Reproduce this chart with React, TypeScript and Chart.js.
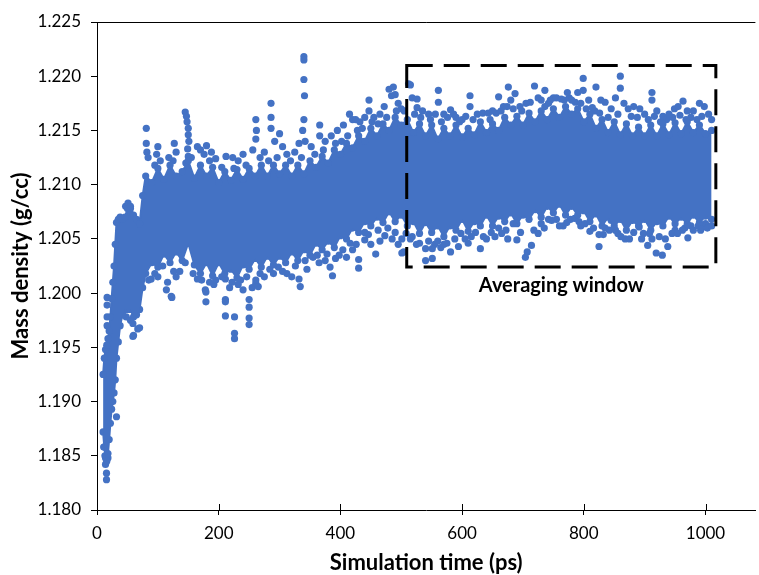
import React, { useEffect, useRef } from "react";
import { Chart, registerables } from "chart.js";

Chart.register(...registerables);

const BLUE = "#4472C4";
const FONT = "Lato, 'Open Sans', sans-serif";

const xTickValues = [0, 200, 400, 600, 800, 1000];
const yTickValues = [1.18, 1.185, 1.19, 1.195, 1.2, 1.205, 1.21, 1.215, 1.22, 1.225];

const xAxisTitle = "Simulation time (ps)";
const yAxisTitle = "Mass density (g/cc)";

// dense core of the scatter cloud: time (ps) with lower / upper edge of the solid band
const coreTimes = [
  10, 12, 14, 16, 18, 20, 22, 24, 26, 28, 30, 32, 35, 38, 42, 46, 50, 55, 60, 65, 70, 75,
  80, 90, 100, 110, 120, 130, 140, 150, 160, 170, 180, 190, 200, 210, 220, 230, 240, 250,
  260, 270, 280, 290, 300, 310, 320, 330, 340, 350, 360, 370, 380, 390, 400, 410, 420, 430,
  440, 450, 460, 470, 480, 490, 500, 510, 520, 530, 540, 550, 560, 570, 580, 590, 600, 610,
  620, 630, 640, 650, 660, 670, 680, 690, 700, 710, 720, 730, 740, 750, 760, 770, 780, 790,
  800, 810, 820, 830, 840, 850, 860, 870, 880, 890, 900, 910, 920, 930, 940, 950, 960, 970,
  980, 990, 1000, 1010,
];
const coreHigh = [
  1.1925, 1.194, 1.1948, 1.1952, 1.1958, 1.1965, 1.1978, 1.1995, 1.201, 1.2025, 1.2045, 1.2065,
  1.2068, 1.207, 1.2068, 1.207, 1.2078, 1.208, 1.2072, 1.2068, 1.2064, 1.209,
  1.2108, 1.2102, 1.2115, 1.2105, 1.2118, 1.2108, 1.2112, 1.2122, 1.2106, 1.2118, 1.2108, 1.2116,
  1.2102, 1.2112, 1.2104, 1.2114, 1.2105, 1.2115, 1.2108, 1.2118, 1.2108, 1.2118, 1.211, 1.2118,
  1.2108, 1.2118, 1.211, 1.2122, 1.2116, 1.2126, 1.212, 1.2132, 1.2128, 1.2138, 1.2134, 1.2145,
  1.214, 1.2152, 1.2145, 1.2156, 1.215, 1.2162, 1.2155,
  1.216, 1.2148, 1.2156, 1.2145, 1.2155, 1.2142, 1.2152, 1.2145, 1.2155, 1.2144, 1.2152,
  1.2146, 1.2158, 1.2148, 1.2156, 1.215, 1.2162, 1.2155, 1.2163, 1.2155, 1.2166, 1.2158, 1.2168,
  1.216, 1.217, 1.2162, 1.2172, 1.2165, 1.217, 1.2158, 1.2165, 1.2152, 1.216, 1.2148, 1.2158,
  1.2146, 1.2156, 1.2145, 1.2153, 1.2145, 1.2155, 1.2145, 1.2156, 1.2146, 1.2157, 1.2147, 1.2158,
  1.2148, 1.2155, 1.2147, 1.215,
];
const coreLow = [
  1.1872, 1.1858, 1.1848, 1.1845, 1.1852, 1.1865, 1.188, 1.1893, 1.19, 1.1908, 1.192, 1.194,
  1.1955, 1.197, 1.198, 1.1985, 1.1985, 1.1985, 1.1978, 1.198, 1.1985, 1.2005,
  1.2018, 1.2028, 1.2024, 1.2036, 1.2028, 1.2038, 1.203, 1.2046, 1.2026, 1.2018, 1.2028, 1.2016,
  1.2028, 1.2018, 1.2022, 1.2014, 1.2026, 1.2022, 1.2032, 1.2024, 1.2034, 1.2026, 1.2034, 1.2028,
  1.2038, 1.203, 1.204, 1.2035, 1.2046, 1.204, 1.2048, 1.2042, 1.2053, 1.205, 1.206, 1.2056,
  1.2066, 1.2062, 1.207, 1.2065, 1.2075, 1.2066, 1.2072,
  1.2062, 1.2066, 1.2055, 1.2065, 1.2056, 1.2062, 1.2052, 1.2062, 1.2058, 1.2068, 1.2057,
  1.2066, 1.2062, 1.2072, 1.2062, 1.2071, 1.2066, 1.2074, 1.2064, 1.2072, 1.2068, 1.2077, 1.207,
  1.208, 1.2074, 1.2082, 1.2072, 1.208, 1.2072, 1.2076, 1.2066, 1.2073, 1.2062, 1.207, 1.2062,
  1.2068, 1.2058, 1.2067, 1.2062, 1.2068, 1.2058, 1.2066, 1.2062, 1.2071, 1.2064, 1.207, 1.2064,
  1.2072, 1.2065, 1.2071, 1.2068,
];

// scattered points above the dense band: [time (ps), density (g/cc)]
const upperPoints: [number, number][] = [
  [16.6, 1.1996], [16.6, 1.1989], [16.6, 1.1978], [16.6, 1.197],
  [47, 1.208], [51, 1.2083], [55, 1.2078],
  [81, 1.2152], [81, 1.2138], [82, 1.213], [84, 1.2125],
  [100, 1.2135], [98, 1.2128], [104, 1.2122], [118, 1.2125], [127, 1.2138], [130, 1.213],
  [145, 1.2167], [147, 1.2163], [148, 1.2158], [150, 1.2152], [150, 1.2146], [151, 1.214],
  [149, 1.2133], [150, 1.2126], [146, 1.212],
  [165, 1.2135], [170, 1.2132], [176, 1.2128], [180, 1.2136], [188, 1.213], [195, 1.2124],
  [212, 1.2126], [223, 1.2125], [232, 1.2122], [240, 1.2128],
  [261, 1.216], [262, 1.215], [261, 1.2142], [256, 1.2132], [275, 1.213],
  [286, 1.2175], [286, 1.2162], [286, 1.2152], [292, 1.214], [300, 1.2147], [305, 1.2135],
  [312, 1.2128], [325, 1.213], [332, 1.2138],
  [340, 1.2218], [340, 1.2215], [340, 1.2197], [341, 1.2182], [340, 1.216], [338, 1.215],
  [342, 1.214], [352, 1.2135], [366, 1.2155], [366, 1.2145], [375, 1.214], [385, 1.2145],
  [395, 1.215], [405, 1.2155], [415, 1.2165], [420, 1.216], [425, 1.216], [432, 1.2158],
  [440, 1.2162], [447, 1.2178], [447, 1.2168], [455, 1.2162], [465, 1.2165], [472, 1.2172],
  [480, 1.2188], [484, 1.2182], [487, 1.219], [490, 1.2183], [495, 1.2175], [500, 1.217],
  [512, 1.2193], [515, 1.2192], [518, 1.218], [526, 1.2179], [526, 1.2171], [535, 1.2168],
  [545, 1.2165], [561, 1.2187], [561, 1.2176], [570, 1.2165], [581, 1.2169], [590, 1.2162],
  [600, 1.216], [613, 1.2182], [613, 1.2172], [625, 1.2165], [643, 1.2166], [650, 1.2168],
  [660, 1.2181], [668, 1.2172], [676, 1.219], [680, 1.2178], [687, 1.2184], [695, 1.2172],
  [705, 1.2175], [719, 1.2191], [725, 1.218], [736, 1.2187], [736, 1.2172], [745, 1.2178],
  [755, 1.218], [763, 1.2179], [773, 1.2185], [780, 1.2178], [790, 1.2185], [799, 1.2198],
  [799, 1.2187], [808, 1.2178], [814, 1.2171], [820, 1.219], [828, 1.2178], [835, 1.2176],
  [845, 1.217], [852, 1.218], [860, 1.22], [860, 1.2189], [866, 1.2175], [873, 1.217],
  [882, 1.2172], [892, 1.217], [900, 1.2165], [912, 1.2185], [912, 1.2178], [920, 1.2168],
  [930, 1.2163], [940, 1.2165], [949, 1.217], [955, 1.2172], [963, 1.2177], [970, 1.2168],
  [980, 1.2168], [990, 1.2175], [998, 1.2172], [1005, 1.2165], [1010, 1.216],
];

// points in the fuzzy zone just above the dense band
const upperEdgePoints: [number, number][] = [
  [95, 1.2118], [125, 1.2122], [155, 1.2125], [185, 1.2122], [205, 1.2116], [225, 1.2115],
  [245, 1.2118], [268, 1.2125], [282, 1.2122], [296, 1.2125], [318, 1.2122], [336, 1.2125],
  [358, 1.2128], [372, 1.2132], [392, 1.2138], [402, 1.214], [412, 1.2145], [428, 1.215],
  [436, 1.2152], [452, 1.2158], [462, 1.2156], [476, 1.2162], [492, 1.2168],
  [505, 1.2168], [522, 1.2165], [532, 1.2162], [548, 1.216], [556, 1.2165], [566, 1.2158],
  [576, 1.2162], [586, 1.2165], [596, 1.2158], [606, 1.2163], [618, 1.216], [634, 1.2166],
  [646, 1.216], [656, 1.2166], [664, 1.2168], [674, 1.2172], [684, 1.217], [698, 1.2168],
  [712, 1.2176], [730, 1.2178], [742, 1.2175], [750, 1.218], [768, 1.2178], [776, 1.218],
  [786, 1.2176], [795, 1.2175], [804, 1.217], [818, 1.2168], [826, 1.2166], [840, 1.2162],
  [856, 1.2165], [878, 1.2163], [888, 1.2162], [906, 1.216], [916, 1.2163], [926, 1.2158],
  [936, 1.216], [946, 1.2162], [958, 1.2164], [968, 1.216], [976, 1.2162], [986, 1.216],
  [994, 1.2163],
];

// scattered points below the dense band: [time (ps), density (g/cc)]
const lowerPoints: [number, number][] = [
  [11, 1.1858], [13, 1.185], [14, 1.1842], [15.6, 1.1834], [15.6, 1.1828], [18, 1.1848],
  [32, 1.1886],
  [48, 1.1978], [55, 1.1975], [59, 1.1972], [59, 1.196], [60, 1.1961], [67, 1.1967],
  [70, 1.1968], [62, 1.1985],
  [89, 1.2013], [100, 1.2015], [114, 1.2003], [116, 1.201], [122, 1.1997], [123, 1.1996],
  [130, 1.2015], [136, 1.202], [165, 1.2013], [178, 1.2003], [179, 1.2001], [179, 1.1992],
  [185, 1.201], [195, 1.2012], [211, 1.2013], [211, 1.1994], [211, 1.1992], [211, 1.1979],
  [218, 1.2005], [226, 1.1978], [226, 1.1963], [226, 1.1958], [232, 1.2008], [240, 1.2003],
  [250, 1.1994], [250, 1.1987], [250, 1.1977], [250, 1.1971], [255, 1.2005], [261, 1.2009],
  [261, 1.2012], [265, 1.2006], [275, 1.2015], [290, 1.2018], [305, 1.202], [320, 1.2015],
  [332, 1.2013], [334, 1.2006], [345, 1.2022], [355, 1.2033], [365, 1.2028], [375, 1.203],
  [383, 1.2024], [387, 1.2016], [398, 1.2035], [410, 1.2033], [420, 1.204], [430, 1.2031],
  [430, 1.2023], [440, 1.2049], [440, 1.2056], [450, 1.2045], [458, 1.2036], [465, 1.2048],
  [473, 1.2053], [485, 1.205], [495, 1.2045], [501, 1.2037], [501, 1.205], [504, 1.2038],
  [515, 1.205], [525, 1.2045], [540, 1.203], [540, 1.2041], [551, 1.2032], [551, 1.2041],
  [560, 1.2048], [570, 1.2045], [581, 1.2038], [594, 1.2043], [605, 1.205], [615, 1.2052],
  [630, 1.2041], [640, 1.205], [654, 1.2052], [665, 1.2055], [675, 1.205], [690, 1.2049],
  [704, 1.2033], [707, 1.2038], [714, 1.2044], [725, 1.2055], [735, 1.206], [747, 1.2067],
  [760, 1.2062], [772, 1.2065], [785, 1.2069], [795, 1.2062], [810, 1.2057], [825, 1.2043],
  [825, 1.2054], [835, 1.206], [845, 1.2067], [852, 1.2058], [861, 1.2052], [875, 1.205],
  [891, 1.2061], [898, 1.2055], [905, 1.2044], [912, 1.205], [919, 1.2037], [929, 1.2035],
  [938, 1.2043], [945, 1.2055], [954, 1.2055], [962, 1.2058], [971, 1.2051], [980, 1.2058],
  [988, 1.2062], [995, 1.2061], [1003, 1.206], [1010, 1.2062],
];

// points in the fuzzy zone just below the dense band
const lowerEdgePoints: [number, number][] = [
  [85, 1.2012], [95, 1.2018], [108, 1.2025], [126, 1.202], [145, 1.2028], [158, 1.2018],
  [172, 1.2012], [192, 1.2008], [205, 1.2015], [222, 1.201], [236, 1.2012], [246, 1.2015],
  [268, 1.2018], [284, 1.2022], [298, 1.2024], [312, 1.2018], [326, 1.2025], [342, 1.203],
  [362, 1.2035], [378, 1.2036], [392, 1.2032], [404, 1.204], [416, 1.2046], [426, 1.2045],
  [446, 1.2054], [462, 1.2058], [478, 1.206], [490, 1.2056],
  [508, 1.2055], [518, 1.2052], [530, 1.2046], [545, 1.2048], [555, 1.2045], [565, 1.2042],
  [575, 1.2046], [588, 1.205], [598, 1.2055], [610, 1.2046], [622, 1.2056], [635, 1.2052],
  [648, 1.2056], [660, 1.206], [672, 1.2058], [684, 1.2064], [696, 1.2056], [718, 1.2058],
  [730, 1.2064], [742, 1.2068], [755, 1.2068], [766, 1.2062], [778, 1.2068], [792, 1.2066],
  [802, 1.2064], [816, 1.206], [832, 1.2054], [842, 1.2058], [856, 1.2055], [868, 1.205],
  [882, 1.2056], [895, 1.205], [908, 1.2055], [924, 1.2052], [934, 1.205], [950, 1.2058],
  [966, 1.206], [976, 1.2062], [992, 1.2058], [1000, 1.2064],
];

// averaging window annotation (data coordinates)
const windowStart = 509;
const windowEnd = 1017;
const windowTop = 1.221;
const windowBottom = 1.2024;
const windowLabel = "Averaging window";

const overlayPlugin = {
  id: "overlay",
  afterDraw(chart: any) {
    const { ctx, chartArea, scales } = chart;
    const x = scales.x;
    const y = scales.y;
    ctx.save();
    ctx.strokeStyle = "#000";
    ctx.lineWidth = 1;
    ctx.beginPath();
    ctx.moveTo(chartArea.left, Math.round(chartArea.top) + 0.5);
    ctx.lineTo(chartArea.right, Math.round(chartArea.top) + 0.5);
    xTickValues.forEach((v) => {
      const px = Math.round(x.getPixelForValue(v)) + 0.5;
      ctx.moveTo(px, chartArea.bottom - 6);
      ctx.lineTo(px, chartArea.bottom);
    });
    ctx.stroke();

    const l = x.getPixelForValue(windowStart);
    const r = x.getPixelForValue(windowEnd);
    const t = y.getPixelForValue(windowTop);
    const b = y.getPixelForValue(windowBottom);
    ctx.lineWidth = 3;
    ctx.setLineDash([26, 11]);
    ctx.strokeRect(l, t, r - l, b - t);
    ctx.setLineDash([]);
    ctx.fillStyle = "#000";
    ctx.font = `bold 20px ${FONT}`;
    ctx.textAlign = "center";
    ctx.textBaseline = "middle";
    ctx.fillText(windowLabel, (l + r) / 2, b + 18);
    ctx.restore();
  },
};

const toXY = (pts: [number, number][]) => pts.map(([t, d]) => ({ x: t, y: d }));

export default function App() {
  const canvasRef = useRef<HTMLCanvasElement | null>(null);

  useEffect(() => {
    document.body.style.margin = "0";
    const canvas = canvasRef.current;
    if (!canvas) return;
    const pointStyle = {
      pointRadius: 3.6,
      pointBackgroundColor: BLUE,
      pointBorderWidth: 0,
      pointHoverRadius: 3.6,
    };
    const chart = new Chart(canvas, {
      type: "scatter",
      data: {
        datasets: [
          {
            type: "line",
            data: coreTimes.map((t, i) => ({ x: t, y: coreHigh[i] })),
            fill: "+1",
            backgroundColor: BLUE,
            borderColor: BLUE,
            borderWidth: 2,
            tension: 0,
            ...pointStyle,
          },
          {
            type: "line",
            data: coreTimes.map((t, i) => ({ x: t, y: coreLow[i] })),
            fill: false,
            backgroundColor: BLUE,
            borderColor: BLUE,
            borderWidth: 2,
            tension: 0,
            ...pointStyle,
          },
          { data: toXY(upperPoints), backgroundColor: BLUE, ...pointStyle },
          { data: toXY(upperEdgePoints), backgroundColor: BLUE, ...pointStyle },
          { data: toXY(lowerPoints), backgroundColor: BLUE, ...pointStyle },
          { data: toXY(lowerEdgePoints), backgroundColor: BLUE, ...pointStyle },
        ],
      } as any,
      options: {
        animation: false,
        responsive: false,
        events: [],
        layout: { padding: { top: 22, right: 0, left: 0, bottom: 0 } },
        plugins: {
          legend: { display: false },
          tooltip: { enabled: false },
        },
        scales: {
          x: {
            type: "linear",
            min: 0,
            max: 1082,
            afterBuildTicks: (s: any) => {
              s.ticks = xTickValues.map((v) => ({ value: v }));
            },
            afterFit: (s: any) => {
              s.height = 65;
            },
            grid: { drawOnChartArea: false, drawTicks: true, tickLength: 5, color: "#000" },
            border: { color: "#000", width: 1 },
            ticks: {
              font: { family: FONT, size: 17 },
              color: "#000",
              padding: 8,
              maxRotation: 0,
              callback: (v: any) => String(v),
            },
            title: {
              display: true,
              text: xAxisTitle,
              color: "#000",
              font: { family: FONT, size: 22, weight: "bold", lineHeight: 1.1 },
              padding: { top: 0, bottom: 0 },
            },
          },
          y: {
            type: "linear",
            min: 1.18,
            max: 1.225,
            afterBuildTicks: (s: any) => {
              s.ticks = yTickValues.map((v) => ({ value: v }));
            },
            afterFit: (s: any) => {
              s.width = 97;
            },
            grid: { drawOnChartArea: false, drawTicks: true, tickLength: 6, color: "#000" },
            border: { color: "#000", width: 1 },
            ticks: {
              font: { family: FONT, size: 17 },
              color: "#000",
              padding: 10,
              callback: (v: any) => Number(v).toFixed(3),
            },
            title: {
              display: true,
              text: yAxisTitle,
              color: "#000",
              font: { family: FONT, size: 22, weight: "bold", lineHeight: 1.1 },
              padding: { top: 9, bottom: 0 },
            },
          },
        },
      } as any,
      plugins: [overlayPlugin],
    });
    return () => chart.destroy();
  }, []);

  return (
    <div style={{ width: 759, height: 575 }}>
      <canvas ref={canvasRef} width={759} height={575} />
    </div>
  );
}
